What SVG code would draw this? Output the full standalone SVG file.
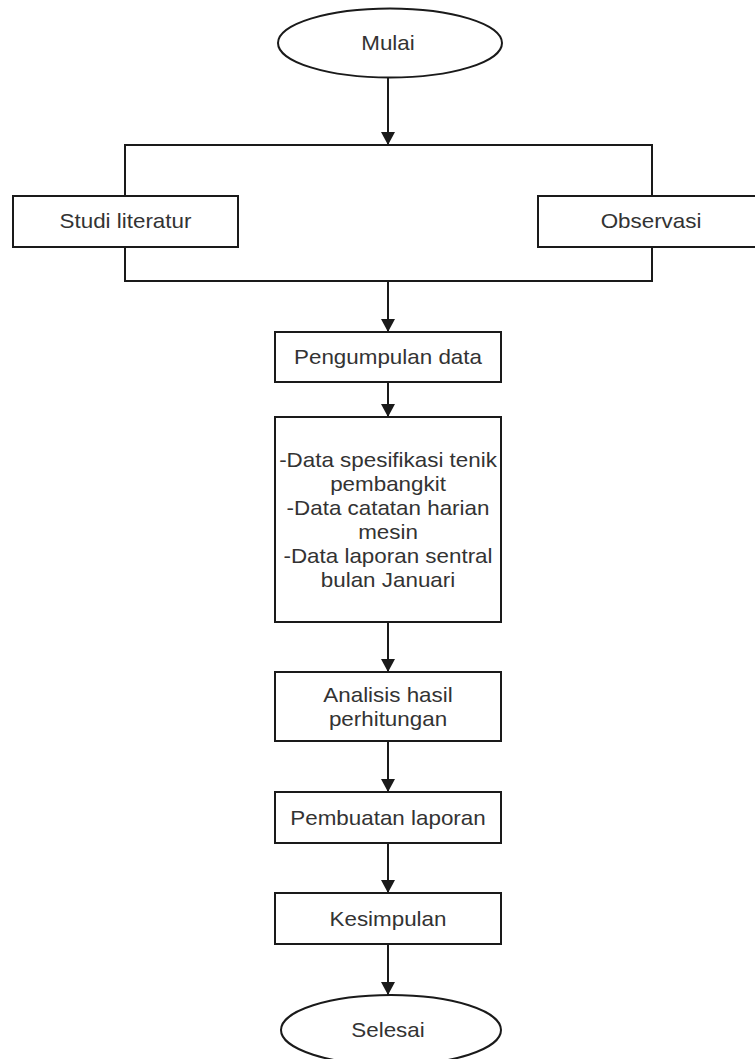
<svg xmlns="http://www.w3.org/2000/svg" width="755" height="1059" viewBox="0 0 755 1059">
<style>
.shape{fill:#ffffff;stroke:#1a1a1a;stroke-width:2}
.line{fill:none;stroke:#1a1a1a;stroke-width:2}
.lbl{font-family:"Liberation Sans",Arial,sans-serif;font-size:20px;fill:#333333;text-anchor:middle;dominant-baseline:central}
</style>
<defs>
<marker id="arr" markerUnits="userSpaceOnUse" markerWidth="16" markerHeight="14" refX="13" refY="7" orient="auto">
<path d="M0,0 L13,7 L0,14 Z" fill="#1a1a1a"/>
</marker>
</defs>
<rect width="755" height="1059" fill="#ffffff"/>
<g id="connectors">
<line class="line" x1="388" y1="78" x2="388" y2="145" marker-end="url(#arr)"/>
<path class="line" d="M125,196 V145 H652 V196"/>
<path class="line" d="M125,247 V281 H652 V247"/>
<line class="line" x1="388" y1="281" x2="388" y2="332" marker-end="url(#arr)"/>
<line class="line" x1="388" y1="382" x2="388" y2="417" marker-end="url(#arr)"/>
<line class="line" x1="388" y1="622" x2="388" y2="672" marker-end="url(#arr)"/>
<line class="line" x1="388" y1="741" x2="388" y2="792" marker-end="url(#arr)"/>
<line class="line" x1="388" y1="843" x2="388" y2="893" marker-end="url(#arr)"/>
<line class="line" x1="388" y1="944" x2="388" y2="995" marker-end="url(#arr)"/>
</g>
<g id="mulai">
<ellipse class="shape" cx="390" cy="43" rx="112" ry="34.5"/>
<text class="lbl" transform="translate(388,43) scale(1.12,1)">Mulai</text>
</g>
<g id="studi">
<rect class="shape" x="13" y="196" width="225" height="51"/>
<text class="lbl" transform="translate(125.5,221) scale(1.12,1)">Studi literatur</text>
</g>
<g id="observasi">
<rect class="shape" x="538" y="196" width="228" height="51"/>
<text class="lbl" transform="translate(651,221) scale(1.12,1)">Observasi</text>
</g>
<g id="pengumpulan">
<rect class="shape" x="275" y="332" width="226" height="50"/>
<text class="lbl" transform="translate(388,357) scale(1.12,1)">Pengumpulan data</text>
</g>
<g id="data">
<rect class="shape" x="275" y="417" width="226" height="205"/>
<text class="lbl" transform="translate(388,459.5) scale(1.12,1)">-Data spesifikasi tenik</text>
<text class="lbl" transform="translate(388,483.5) scale(1.12,1)">pembangkit</text>
<text class="lbl" transform="translate(388,507.5) scale(1.12,1)">-Data catatan harian</text>
<text class="lbl" transform="translate(388,531.5) scale(1.12,1)">mesin</text>
<text class="lbl" transform="translate(388,555.5) scale(1.12,1)">-Data laporan sentral</text>
<text class="lbl" transform="translate(388,579.5) scale(1.12,1)">bulan Januari</text>
</g>
<g id="analisis">
<rect class="shape" x="275" y="672" width="226" height="69"/>
<text class="lbl" transform="translate(388,694.5) scale(1.12,1)">Analisis hasil</text>
<text class="lbl" transform="translate(388,718.5) scale(1.12,1)">perhitungan</text>
</g>
<g id="pembuatan">
<rect class="shape" x="275" y="792" width="226" height="51"/>
<text class="lbl" transform="translate(388,817.5) scale(1.12,1)">Pembuatan laporan</text>
</g>
<g id="kesimpulan">
<rect class="shape" x="275" y="893" width="226" height="51"/>
<text class="lbl" transform="translate(388,918.5) scale(1.12,1)">Kesimpulan</text>
</g>
<g id="selesai">
<ellipse class="shape" cx="391" cy="1030" rx="110" ry="35"/>
<text class="lbl" transform="translate(388,1030) scale(1.12,1)">Selesai</text>
</g>
</svg>
